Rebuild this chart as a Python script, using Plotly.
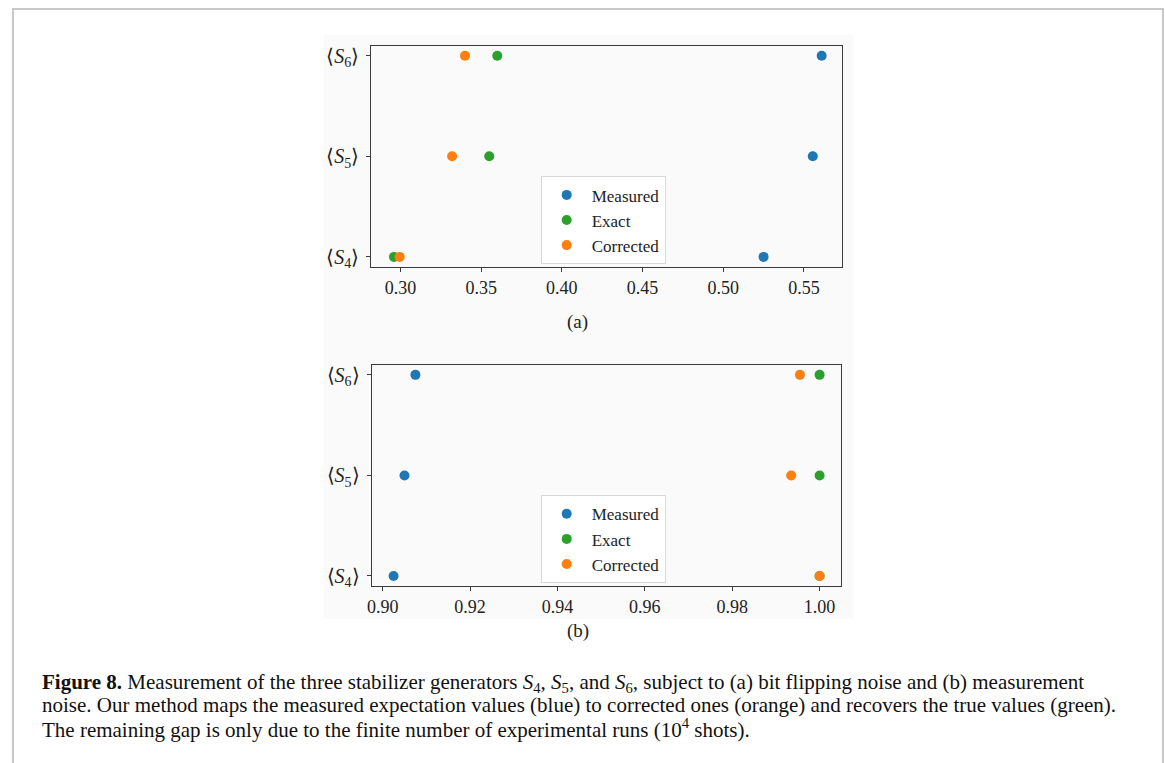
import plotly.graph_objects as go

W, H = 1165, 763

# ---- data ----
stabilizers = ["⟨<i>S</i><sub>4</sub>⟩", "⟨<i>S</i><sub>5</sub>⟩", "⟨<i>S</i><sub>6</sub>⟩"]
y_pos = [0, 1, 2]
series_names = ["Measured", "Exact", "Corrected"]

a_measured = [0.525, 0.5555, 0.561]
a_exact = [0.296, 0.355, 0.360]
a_corrected = [0.2995, 0.332, 0.340]

b_measured = [0.9025, 0.905, 0.9075]
b_exact = [1.0, 1.0, 1.0]
b_corrected = [1.0, 0.9935, 0.9955]

a_xticks = [0.30, 0.35, 0.40, 0.45, 0.50, 0.55]
a_xticklabels = ["0.30", "0.35", "0.40", "0.45", "0.50", "0.55"]
b_xticks = [0.90, 0.92, 0.94, 0.96, 0.98, 1.00]
b_xticklabels = ["0.90", "0.92", "0.94", "0.96", "0.98", "1.00"]

colors = ["#1f77b4", "#2ca02c", "#ff7f0e"]

caption_lines = [
    "<b>Figure 8.</b> Measurement of the three stabilizer generators <i>S</i><sub>4</sub>, <i>S</i><sub>5</sub>, and <i>S</i><sub>6</sub>, subject to (a) bit flipping noise and (b) measurement",
    "noise. Our method maps the measured expectation values (blue) to corrected ones (orange) and recovers the true values (green).",
    "The remaining gap is only due to the finite number of experimental runs (10<sup>4</sup> shots).",
]


def px(x):
    return x / W


def py(y):
    return 1 - y / H


SERIF = "Liberation Serif"
fig = go.Figure()

panels = [
    ("x", "y", "legend", [a_measured, a_exact, a_corrected]),
    ("x2", "y2", "legend2", [b_measured, b_exact, b_corrected]),
]
for xa, ya, lg, vals in panels:
    for name, v, c in zip(series_names, vals, colors):
        fig.add_trace(go.Scatter(
            x=v, y=y_pos, mode="markers", name=name,
            marker=dict(color=c, size=10, line=dict(width=0)),
            xaxis=xa, yaxis=ya, legend=lg, legendgroup=lg + name,
        ))

axis_common = dict(
    showline=True, linecolor="#3a3a3a", linewidth=1.2, mirror=True,
    ticks="outside", ticklen=4, tickwidth=1, tickcolor="#3a3a3a",
    showgrid=False, zeroline=False,
)
xfont = dict(family=SERIF, size=18, color="#222222")
yfont = dict(family=SERIF, size=20, color="#222222")
legfont = dict(family=SERIF, size=17, color="#222222")

fig.update_layout(
    width=W, height=H,
    margin=dict(l=0, r=0, t=0, b=0),
    paper_bgcolor="white", plot_bgcolor="white",
    showlegend=True,
    xaxis=dict(domain=[px(368), px(840.6)], range=[0.282, 0.5736], anchor="y",
               tickvals=a_xticks, ticktext=a_xticklabels, tickfont=xfont, **axis_common),
    yaxis=dict(domain=[py(267.7), py(45)], range=[-0.1, 2.1], anchor="x",
               tickvals=y_pos, ticktext=stabilizers, tickfont=yfont, ticklabelstandoff=3, **axis_common),
    xaxis2=dict(domain=[px(368.3), px(839.6)], range=[0.8975, 1.0049], anchor="y2",
                tickvals=b_xticks, ticktext=b_xticklabels, tickfont=xfont, **axis_common),
    yaxis2=dict(domain=[py(588.9), py(366.2)], range=[-0.1, 2.1], anchor="x2",
                tickvals=y_pos, ticktext=stabilizers, tickfont=yfont, ticklabelstandoff=3, **axis_common),
    legend=dict(x=px(538), y=py(176.5), xanchor="left", yanchor="top",
                bgcolor="white", bordercolor="#d8d8d8", borderwidth=1,
                font=legfont, tracegroupgap=0, itemwidth=40),
    legend2=dict(x=px(538), y=py(497.5), xanchor="left", yanchor="top",
                 bgcolor="white", bordercolor="#d8d8d8", borderwidth=1,
                 font=legfont, tracegroupgap=0, itemwidth=40),
)

# page frame and figure image background
fig.add_shape(type="rect", xref="paper", yref="paper",
              x0=px(320), x1=px(852), y0=py(622), y1=py(34),
              fillcolor="#fafafa", line=dict(width=0), layer="below")
fig.add_shape(type="rect", xref="paper", yref="paper",
              x0=px(8), x1=px(1163), y0=-0.1, y1=py(8),
              fillcolor="rgba(0,0,0,0)", line=dict(color="#c8c8c8", width=2), layer="below")

# sub-figure labels
fig.add_annotation(text="(a)", x=px(575), y=py(323), xref="paper", yref="paper",
                   xanchor="center", yanchor="middle",
                   showarrow=False, font=dict(family=SERIF, size=19, color="#222222"))
fig.add_annotation(text="(b)", x=px(575), y=py(634), xref="paper", yref="paper",
                   xanchor="center", yanchor="middle",
                   showarrow=False, font=dict(family=SERIF, size=19, color="#222222"))

# caption
for i, line in enumerate(caption_lines):
    fig.add_annotation(text=line, x=px(35), y=py(686 + 23 * i), xref="paper", yref="paper",
                       xanchor="left", yanchor="middle", showarrow=False,
                       font=dict(family=SERIF, size=21, color="#111111"))

fig.write_html("out.html")
